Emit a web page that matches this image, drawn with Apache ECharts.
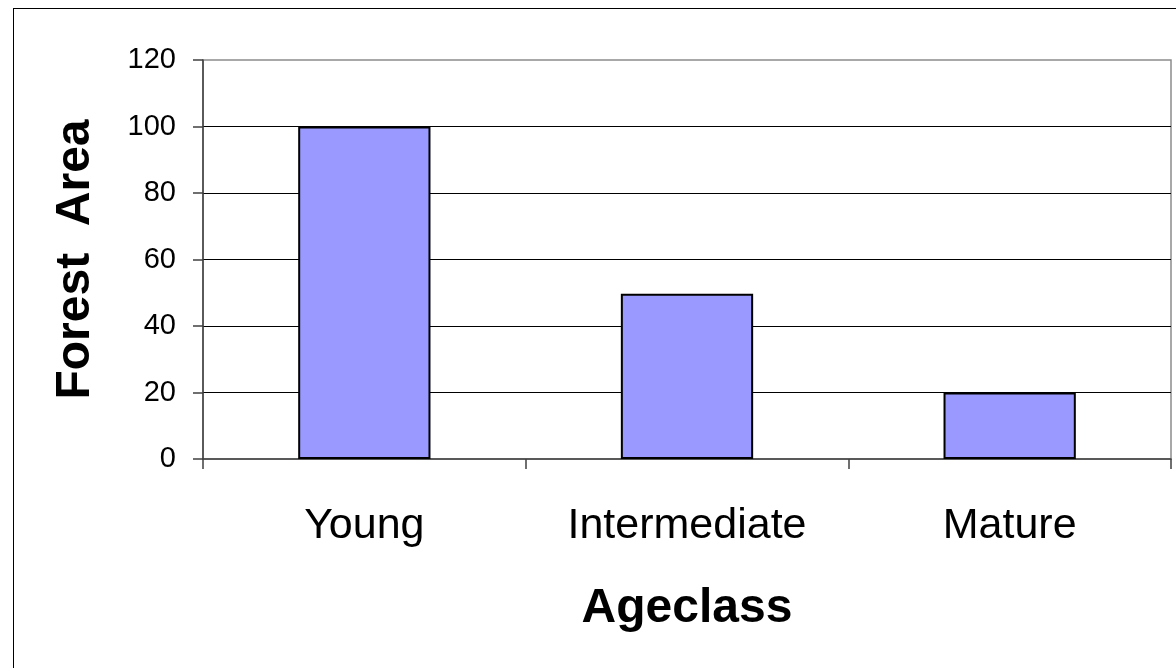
<!DOCTYPE html>
<html>
<head>
<meta charset="utf-8">
<title>Forest Area by Ageclass</title>
<script src="https://cdn.jsdelivr.net/npm/echarts@6/dist/echarts.min.js"></script>
<style>
  html, body { margin: 0; padding: 0; background: #fff; overflow: hidden; }
  #wrap { position: relative; width: 1176px; height: 668px; overflow: hidden; }
  #frame { position: absolute; left: 13px; top: 8px; width: 2000px; height: 2000px;
           border: 1px solid #000; box-sizing: border-box; pointer-events: none; }
  #chart { position: absolute; left: 0; top: 0; width: 1176px; height: 668px; }
</style>
</head>
<body>
<div id="wrap">
  <div id="chart"></div>
  <div id="frame"></div>
</div>
<script>
// Forest area per age class
const categories = ['Young', 'Intermediate', 'Mature'];
const forestArea = [100, 49.7, 20];
const yTicks = { min: 0, max: 120, step: 20 };
const xTitle = 'Ageclass';
const yTitle = 'Forest  Area';

const FONT = '"Liberation Sans", Arial, Helvetica, sans-serif';

const chart = echarts.init(document.getElementById('chart'), null, { renderer: 'canvas' });
chart.setOption({
  animation: false,
  backgroundColor: 'transparent',
  grid: {
    left: 203, top: 60, right: 5, bottom: 209,
    show: true, borderColor: '#8c8c8c', borderWidth: 1.5, backgroundColor: 'transparent'
  },
  xAxis: {
    type: 'category',
    data: categories,
    boundaryGap: true,
    name: xTitle,
    nameLocation: 'middle',
    nameGap: 126,
    nameTextStyle: { fontFamily: FONT, fontWeight: 'bold', fontSize: 48, color: '#000' },
    axisLine: { lineStyle: { color: '#404040', width: 1.5 } },
    axisTick: { show: true, alignWithLabel: false, length: 10, lineStyle: { color: '#404040', width: 1.5 } },
    axisLabel: { fontFamily: FONT, fontSize: 43, color: '#000', margin: 46 },
    splitLine: { show: false }
  },
  yAxis: {
    type: 'value',
    min: yTicks.min, max: yTicks.max, interval: yTicks.step,
    name: yTitle,
    nameLocation: 'middle',
    nameGap: 103,
    nameRotate: 90,
    nameTextStyle: { fontFamily: FONT, fontWeight: 'bold', fontSize: 48, color: '#000' },
    axisLine: { show: true, lineStyle: { color: '#404040', width: 1.5 } },
    axisTick: { show: true, length: 10, lineStyle: { color: '#404040', width: 1.5 } },
    axisLabel: { fontFamily: FONT, fontSize: 29, color: '#000', margin: 27 },
    splitLine: { show: true, showMinLine: false, showMaxLine: false, lineStyle: { color: '#000', width: 1.2 } }
  },
  series: [{
    type: 'bar',
    data: forestArea,
    barWidth: '41%',
    itemStyle: { color: '#9999FF', borderColor: '#000', borderWidth: 2 },
    emphasis: { disabled: true }
  }]
});
</script>
</body>
</html>
